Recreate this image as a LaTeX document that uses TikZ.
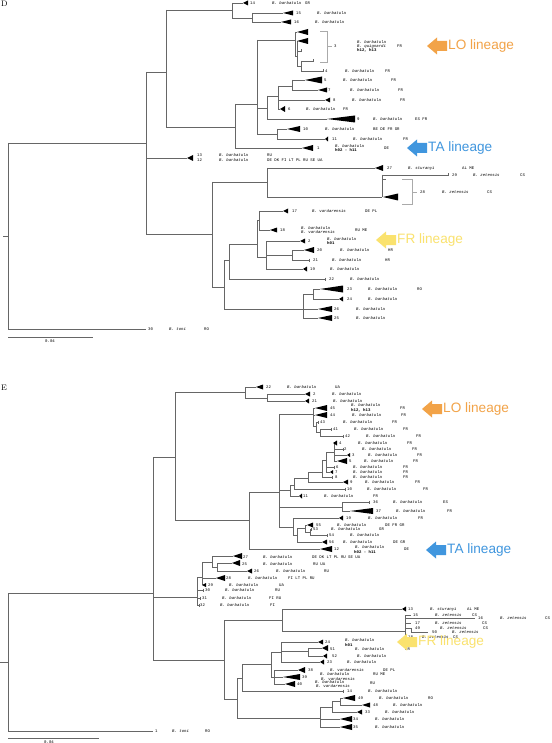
\documentclass[tikz,border=0pt]{standalone}
\usepackage{fontspec}
\setmonofont{Liberation Mono}
\newfontfamily\linfont{Liberation Sans}
\definecolor{loc}{RGB}{242,163,72}
\definecolor{tac}{RGB}{64,150,222}
\definecolor{frc}{RGB}{250,226,110}
\definecolor{brc}{RGB}{170,170,170}
\newcommand{\VL}[3]{\draw[br] (#1,#2) -- (#1,#3);}
\newcommand{\HL}[3]{\draw[br] (#2,#1) -- (#3,#1);}
\newcommand{\TR}[4]{\fill (#1,#3) -- (#2,#3-#4/2) -- (#2,#3+#4/2) -- cycle;}
\newcommand{\TK}[2]{\draw[br] (#1,#2-1.5) -- (#1,#2+1.5);}
\newcommand{\RowC}[7]{\node[lab] at (#2,#1) {#3}; \node[lab] at (#4,#1) {\itshape #5}; \node[lab] at (#6,#1) {#7};}
\newcommand{\RowN}[5]{\node[lab] at (#2,#1) {#3}; \node[lab] at (#4,#1) {\itshape #5};}
\newcommand{\Lab}[3]{\node[lab] at (#1,#2) {#3};}
\newcommand{\SpL}[3]{\node[lab] at (#1,#2) {\itshape #3};}
\newcommand{\BoL}[3]{\node[lab] at (#1,#2) {\bfseries #3};}
\newcommand{\LinArrow}[4]{%
  \fill[#3] (#1,#2) -- ++(10,-8.5) -- ++(0,3.5) -- ++(10,0) -- ++(0,10) -- ++(-10,0) -- ++(0,3.5) -- cycle;
  \node[anchor=west,inner sep=0pt,text=#3,font=\linfont\fontsize{13.6}{14}\selectfont] at (#1+21,#2) {#4};}
\begin{document}
\begin{tikzpicture}[x=1pt,y=-1pt,
  br/.style={line width=0.6pt,black!60},
  lab/.style={anchor=west,inner sep=0pt,font=\fontsize{4}{4}\selectfont\ttfamily}]
\useasboundingbox[fill=white] (0,0) rectangle (551,743);
% ================= PANEL D =================
\node[anchor=north west,inner sep=0pt,font=\fontsize{8}{8}\selectfont] (labD) at (1,0.5) {D};
% root
\VL{8}{143}{329} \HL{236}{3}{8}
\HL{143}{8}{146} \HL{329}{8}{146}
\VL{146}{72}{234} \HL{72}{146}{166} \HL{158}{146}{187} \TR{187}{193}{158}{6} \HL{234}{146}{212}
\VL{166}{10}{127} \HL{10}{166}{232} \HL{127}{166}{235}
\VL{232}{3}{18} \HL{3}{232}{243} \TR{243}{248}{3}{5}
\HL{18}{232}{252} \VL{252}{13}{22} \HL{13}{252}{283} \TR{283}{293}{13}{5} \HL{22}{252}{281} \TR{281}{291}{22}{5}
\VL{235}{104}{148} \HL{104}{235}{257} \HL{148}{235}{302} \TR{302}{313}{148}{6}
\VL{257}{40}{134} \HL{40}{257}{295}
% LO clade D
\VL{295}{32}{56} \HL{32}{295}{297} \TR{297}{308}{32}{6} \HL{56}{295}{297}
\VL{297}{41}{66} \TR{297}{308}{41}{6} \HL{51}{297}{301} \TK{301}{51} \HL{66}{297}{301}
\VL{301}{61}{71} \HL{61}{301}{313} \TK{313}{61} \HL{71}{301}{323} \TK{323}{71}
\draw[brc,line width=0.6pt] (320,31) -- (327,31) -- (327,62) -- (320,62) (327,46) -- (332,46);
% 5-9 group
\HL{108}{257}{267} \VL{267}{96}{119} \HL{96}{267}{278} \HL{119}{267}{327} \TR{327}{355}{119}{7}
\VL{278}{86}{109} \HL{86}{278}{292} \HL{100}{278}{325} \TR{325}{330}{100}{5} \HL{109}{278}{280} \TR{280}{285}{109}{6}
\VL{292}{80}{90} \HL{80}{292}{305} \TR{305}{322}{80}{7} \HL{90}{292}{318} \TR{318}{327}{90}{5}
\HL{134}{257}{277} \VL{277}{129}{139} \HL{129}{277}{287} \TR{287}{300}{129}{6} \HL{139}{277}{325} \TR{325}{328}{139}{5}
% lower D
\VL{212}{182}{287} \HL{182}{212}{267} \VL{267}{168}{197}
\HL{168}{267}{375} \TR{375}{383}{168}{6}
\HL{197}{267}{382} \VL{382}{175}{197} \HL{175}{382}{448} \TK{448}{175} \HL{179}{382}{386} \TR{383}{398}{197}{7}
\draw[brc,line width=0.6pt] (402,179) -- (412,179) -- (412,204) -- (402,204) (412,192) -- (417,192);
\HL{287}{212}{224} \VL{224}{260}{309} \HL{260}{224}{229} \VL{229}{244}{279} \HL{244}{229}{257}
\VL{257}{220}{257} \HL{220}{257}{259} \VL{259}{211}{230}
\HL{211}{259}{283} \TR{283}{288}{211}{5} \HL{230}{259}{270} \TR{270}{277}{230}{5}
\HL{257}{257}{266} \VL{266}{241}{269} \HL{241}{266}{300} \TR{300}{305}{241}{5}
\HL{255}{266}{292} \VL{292}{250}{260} \HL{250}{292}{304} \TR{304}{314}{250}{6} \HL{260}{292}{309} \TK{309}{260}
\HL{269}{266}{303} \TR{303}{307}{269}{5}
\HL{279}{229}{325} \TK{325}{279}
\HL{309}{224}{303} \VL{303}{294}{318} \HL{294}{303}{313} \VL{313}{289}{299}
\HL{289}{313}{320} \TR{320}{343}{289}{7} \HL{299}{313}{339} \TR{339}{343}{299}{5}
\HL{309}{303}{318} \TR{318}{332}{309}{6} \HL{318}{303}{318} \TR{318}{332}{318}{6}
% scale D
\HL{337}{8}{93} \node[lab,anchor=center] (sD) at (50,341) {0.04};
% labels D
\RowC{3}{250}{14}{272}{B. barbatula}{305}{GR}
\RowN{13}{296}{15}{317}{B. barbatula}
\RowN{22}{294}{16}{315}{B. barbatula}
\Lab{334}{46}{3} \SpL{357}{42}{B. barbatula} \SpL{357}{46}{B. quignardi} \BoL{357}{50.5}{h12, h13} \Lab{397}{46}{FR}
\RowC{71}{325}{4}{345}{B. barbatula}{385}{FR}
\RowC{80}{324}{5}{343}{B. barbatula}{391}{FR}
\RowC{90}{328}{7}{350}{B. barbatula}{398}{FR}
\RowC{100}{333}{8}{352}{B. barbatula}{400}{FR}
\RowC{109}{288}{6}{306}{B. barbatula}{343}{FR}
\RowC{119}{357}{9}{373}{B. barbatula}{415}{ES FR}
\RowC{129}{303}{10}{325}{B. barbatula}{373}{BE DE FR GR}
\RowC{139}{332}{11}{353}{B. barbatula}{403}{FR}
\Lab{317}{148}{1} \SpL{335}{146}{B. barbatula} \BoL{335}{150.5}{h02 - h11} \Lab{384}{148}{DE}
\RowC{155.5}{197}{13}{219}{B. barbatula}{267}{RU}
\RowC{160.5}{197}{12}{219}{B. barbatula}{267}{DE DK FI LT PL RU SE UA}
\RowC{168}{387}{27}{408}{B. sturanyi}{462}{AL ME}
\RowC{175}{452}{29}{473}{B. zetensis}{520}{CS}
\RowC{192}{420}{28}{442}{B. zetensis}{487}{CS}
\RowC{211}{292}{17}{312}{B. vardarensis}{365}{DE PL}
\Lab{280}{230}{18} \SpL{301}{228}{B. barbatula} \SpL{301}{232.5}{B. vardarensis} \Lab{355}{230}{RU ME}
\Lab{308}{241}{2} \SpL{327}{239}{B. barbatula} \BoL{327}{243.5}{h01}
\RowC{250}{317}{20}{340}{B. barbatula}{388}{HR}
\RowC{260}{313}{21}{332}{B. barbatula}{385}{HR}
\RowN{269}{310}{19}{330}{B. barbatula}
\RowN{279}{329}{22}{350}{B. barbatula}
\RowC{289}{347}{23}{368}{B. barbatula}{417}{RO}
\RowN{299}{347}{24}{368}{B. barbatula}
\RowN{309}{334}{26}{356}{B. barbatula}
\RowN{318}{334}{25}{356}{B. barbatula}
\RowC{329}{148}{30}{169}{B. toni}{204}{RO}
% ================= PANEL E =================
\node[anchor=north west,inner sep=0pt,font=\fontsize{8}{8}\selectfont] (labE) at (1,385) {E};
\VL{8}{593}{731} \HL{662}{0}{8} \HL{593}{8}{153} \HL{731}{8}{153}
\VL{153}{457}{660} \HL{457}{153}{175} \HL{597}{153}{197} \HL{660}{153}{224}
\VL{175}{392}{520} \HL{392}{175}{245} \HL{520}{175}{249}
\VL{245}{387}{398} \HL{387}{245}{256} \TR{256}{263}{387}{5}
\HL{398}{245}{267} \VL{267}{394}{401} \HL{394}{267}{305} \TR{305}{310}{394}{5} \HL{401}{267}{305} \TR{305}{309}{401}{5}
\VL{249}{492}{549} \HL{492}{249}{279} \HL{549}{249}{320} \TR{320}{332}{549}{6}
\VL{279}{414}{527}
% LO E
\HL{414}{279}{313} \VL{313}{408}{426}
\HL{408}{313}{315} \TR{315}{327}{408}{6} \HL{415}{313}{315} \TR{315}{327}{415}{6}
\HL{426}{313}{316} \VL{316}{422}{432} \HL{422}{316}{318} \TK{318}{422}
\HL{432}{316}{320} \VL{320}{429}{436} \HL{429}{320}{331} \TK{331}{429} \HL{436}{320}{343} \TK{343}{436}
% 2-11 E
\HL{490}{279}{290} \VL{290}{485}{496} \HL{496}{290}{299} \TR{299}{302}{496}{5}
\HL{485}{290}{294} \VL{294}{478}{489} \HL{489}{294}{345} \TK{345}{489}
\HL{478}{294}{308} \VL{308}{472}{482} \HL{482}{308}{343} \TR{343}{348}{482}{5}
\HL{472}{308}{322} \VL{322}{460}{477} \HL{477}{322}{332} \TK{332}{477}
\HL{460}{322}{326} \VL{326}{452}{472} \HL{467}{326}{334} \TK{334}{467} \HL{472}{326}{330} \TR{330}{333}{472}{4}
\HL{452}{326}{334} \VL{334}{443}{461}
\TR{333}{337}{443}{5} \HL{449}{334}{343} \TK{343}{449} \HL{455}{334}{347} \TR{347}{350}{455}{4} \HL{461}{334}{337} \TR{337}{347}{461}{6}
% 36/37
\HL{507}{279}{342} \VL{342}{502}{511} \HL{502}{342}{369} \TK{369}{502} \HL{511}{342}{350} \TR{350}{373}{511}{6}
% TA E
\HL{527}{279}{293} \VL{293}{518}{535} \HL{518}{293}{339} \TR{339}{343}{518}{5}
\HL{535}{293}{297} \VL{297}{528}{542} \HL{528}{297}{305} \VL{305}{525}{532}
\HL{525}{305}{307} \TR{307}{313}{525}{5} \HL{532}{305}{310} \VL{310}{529}{535} \HL{529}{310}{311} \TK{311}{529} \HL{535}{310}{327} \TK{327}{535}
\HL{542}{297}{322} \TR{322}{327}{542}{5}
% 25-32
\VL{197}{577}{605} \HL{577}{197}{202} \HL{590}{197}{203} \TK{203}{590} \HL{598}{197}{200} \TK{200}{598} \HL{605}{197}{199} \TK{199}{605}
\VL{202}{562}{585} \HL{562}{202}{212} \HL{578}{202}{216} \TR{216}{225}{578}{6} \TR{202}{206}{585}{4}
\VL{212}{556}{567} \HL{556}{212}{233} \TR{233}{242}{556}{6} \HL{567}{212}{217}
\VL{217}{563}{571} \HL{563}{217}{232} \TR{232}{240}{563}{6} \HL{571}{217}{247} \TR{247}{252}{571}{5}
% bottom E
\VL{224}{620}{699} \HL{620}{224}{282} \VL{282}{609}{631} \HL{609}{282}{402} \TR{402}{406}{609}{5}
\HL{631}{282}{405} \VL{405}{615}{637}
\HL{615}{405}{411} \HL{618}{405}{475} \HL{623}{405}{411} \HL{628}{405}{411} \VL{411}{628}{632} \HL{632}{411}{428} \HL{637}{405}{406}
\HL{699}{224}{237} \VL{237}{678}{718} \HL{678}{237}{242} \VL{242}{664}{691}
\HL{664}{242}{271} \VL{271}{652}{677} \HL{652}{271}{281} \VL{281}{642}{662}
\HL{642}{281}{318} \TR{318}{323}{642}{5}
\HL{651}{281}{308} \VL{308}{648}{656} \HL{648}{308}{322} \TR{322}{328}{648}{6} \HL{656}{308}{323} \TR{323}{327}{656}{5}
\HL{662}{281}{320} \TR{320}{324}{662}{5}
\HL{677}{271}{274} \VL{274}{670}{684} \HL{670}{274}{298} \TR{298}{305}{670}{6}
\HL{677}{274}{283} \TR{283}{300}{677}{6} \HL{684}{274}{285} \TR{285}{295}{684}{6}
\HL{691}{242}{343} \TK{343}{691}
\HL{718}{237}{320} \VL{320}{707}{727} \HL{707}{320}{332} \VL{332}{701}{712} \HL{701}{332}{340} \VL{340}{698}{705}
\HL{698}{340}{343} \TR{343}{355}{698}{6} \HL{705}{340}{362} \TR{362}{370}{705}{5}
\HL{712}{332}{357} \TR{357}{362}{712}{5}
\HL{719}{320}{340} \TR{340}{352}{719}{6} \HL{727}{320}{340} \TR{340}{352}{727}{6}
% scale E
\HL{738}{8}{99} \node[lab,anchor=center] (sE) at (49,742) {0.04};
% labels E
\RowC{387}{266}{22}{287}{B. barbatula}{335}{UA}
\RowN{394}{313}{2}{332}{B. barbatula}
\RowN{401}{312}{21}{333}{B. barbatula}
\Lab{330}{408}{45} \SpL{351}{405.5}{B. barbatula} \BoL{351}{410.5}{h12, h13} \Lab{400}{408}{FR}
\RowC{415}{330}{44}{352}{B. barbatula}{401}{FR}
\RowC{422}{320}{43}{343}{B. barbatula}{392}{FR}
\RowC{429}{333}{41}{354}{B. barbatula}{403}{FR}
\RowC{436}{345}{42}{366}{B. barbatula}{416}{FR}
\RowC{443}{339}{4}{358}{B. barbatula}{407}{FR}
\RowC{449}{344}{2}{362}{B. barbatula}{412}{FR}
\RowC{455}{352}{3}{368}{B. barbatula}{417}{FR}
\RowC{461}{349}{5}{364}{B. barbatula}{413}{FR}
\RowC{467}{336}{6}{353}{B. barbatula}{403}{FR}
\RowC{472}{335}{7}{353}{B. barbatula}{403}{FR}
\RowC{477}{335}{8}{353}{B. barbatula}{403}{FR}
\RowC{482}{350}{9}{365}{B. barbatula}{415}{FR}
\RowC{489}{347}{10}{367}{B. barbatula}{423}{FR}
\RowC{496}{303}{11}{324}{B. barbatula}{373}{FR}
\RowC{502}{373}{36}{393}{B. barbatula}{443}{ES}
\RowC{511}{376}{37}{396}{B. barbatula}{447}{FR}
\RowC{518}{346}{19}{368}{B. barbatula}{418}{FR}
\RowC{525}{316}{55}{337}{B. barbatula}{385}{DE FR GR}
\RowC{529.5}{313}{53}{331}{B. barbatula}{379}{GR}
\RowN{535}{329}{54}{350}{B. barbatula}
\RowC{542}{329}{56}{343}{B. barbatula}{393}{DE GR}
\Lab{334}{549}{12} \SpL{355}{547}{B. barbatula} \BoL{354}{552}{h02 - h11} \Lab{404}{549}{DE}
\RowC{557}{243}{27}{263}{B. barbatula}{312}{DE DK LT PL RU SE UA}
\RowC{564}{242}{25}{263}{B. barbatula}{313}{RU UA}
\RowC{571}{254}{26}{276}{B. barbatula}{324}{RU}
\RowC{578}{226}{28}{248}{B. barbatula}{288}{FI LT PL RU}
\RowC{585}{208}{29}{229}{B. barbatula}{279}{UA}
\RowC{590}{205}{30}{225}{B. barbatula}{275}{RU}
\RowC{598}{202}{31}{222}{B. barbatula}{269}{FI RU}
\RowC{605}{200}{32}{220}{B. barbatula}{270}{FI}
\RowC{609}{408}{13}{430}{B. sturanyi}{467}{AL ME}
\RowC{615}{413}{15}{435}{B. zetensis}{472}{CS}
\RowC{618}{478}{16}{500}{B. zetensis}{545}{CS}
\RowC{623}{415}{17}{435}{B. zetensis}{482}{CS}
\RowC{628}{415}{49}{440}{B. zetensis}{483}{CS}
\RowN{632}{432}{50}{452}{B. zetensis}
\RowC{637}{408}{18}{422}{B. zetensis}{453}{CS}
\Lab{325}{642}{24} \SpL{345}{640}{B. barbatula} \BoL{345}{645}{h01}
\RowC{649}{330}{51}{355}{B. barbatula}{405}{HR}
\RowN{656}{332}{52}{357}{B. barbatula}
\RowN{662}{327}{23}{347}{B. barbatula}
\RowC{670}{308}{38}{330}{B. vardarensis}{383}{DE PL}
\Lab{302}{677}{39} \SpL{320}{674.5}{B. barbatula} \SpL{321}{679}{B. vardarensis} \Lab{373}{674.5}{RU ME}
\Lab{297}{684}{40} \SpL{315}{682}{B. barbatula} \SpL{316}{686.5}{B. vardarensis} \Lab{370}{683}{RU}
\RowN{691}{347}{14}{368}{B. barbatula}
\RowC{698}{358}{49}{379}{B. barbatula}{428}{RO}
\RowN{705}{373}{48}{393}{B. barbatula}
\RowN{712}{365}{33}{385}{B. barbatula}
\RowN{719}{353}{34}{375}{B. barbatula}
\RowN{727}{353}{35}{375}{B. barbatula}
\RowC{731}{155}{1}{172}{B. toni}{205}{RO}
% ================= lineage arrows =================
\LinArrow{427}{46}{loc}{LO lineage}
\LinArrow{407}{148}{tac}{TA lineage}
\LinArrow{376}{240}{frc}{FR lineage}
\LinArrow{422}{409}{loc}{LO lineage}
\LinArrow{426}{550}{tac}{TA lineage}
\LinArrow{397}{642}{frc}{FR lineage}
\end{tikzpicture}
\end{document}
